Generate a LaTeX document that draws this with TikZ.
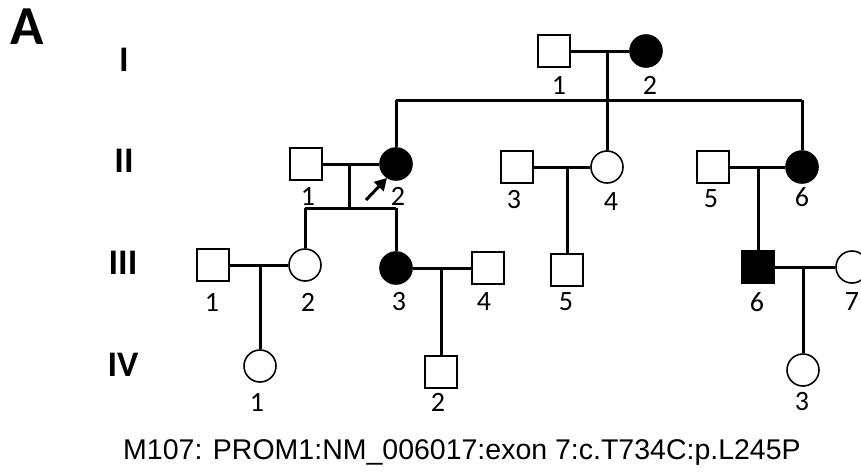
\documentclass[tikz,border=0pt]{standalone}
\usepackage{fontspec}
\setmainfont{Carlito}
\newfontfamily\capfont{Liberation Sans}
\usetikzlibrary{arrows.meta}
\tikzset{
  male/.style={draw=black, line width=1.6pt, minimum size=32pt, inner sep=0pt, fill=white},
  female/.style={circle, draw=black, line width=1.6pt, minimum size=32pt, inner sep=0pt, fill=white},
  aff/.style={fill=black},
  conn/.style={line width=3pt},
  num/.style={inner sep=0pt, font=\fontsize{28}{28}\selectfont},
  gen/.style={inner sep=0pt, font=\fontsize{36}{36}\selectfont\bfseries},
}
\begin{document}
\begin{tikzpicture}[x=1pt,y=-1pt]
\useasboundingbox (0,0) rectangle (861,471);
% generation labels
\node[inner sep=0pt, font=\fontsize{55}{55}\selectfont\bfseries] (lblA) at (27,27) {A};
\node[gen] (gI) at (124,60) {I};
\node[gen] (gII) at (124,161) {II};
\node[gen] (gIII) at (123,263) {III};
\node[gen] (gIV) at (123,365) {IV};
% ---------- junction points ----------
\coordinate (d1) at (607,51);
\coordinate (s1) at (607,100);
\coordinate (s1L) at (396,100);
\coordinate (s1R) at (802,100);
\coordinate (d2) at (349,164);
\coordinate (s2) at (349,208);
\coordinate (s2L) at (305,208);
\coordinate (s2R) at (396,208);
\coordinate (d3) at (567,167);
\coordinate (d4) at (758,167);
\coordinate (d5) at (260,265);
\coordinate (d6) at (441,268);
\coordinate (d7) at (803,267);
% individuals
\node[male] (I1) at (554,51) {};
\node[female, aff] (I2) at (646,51) {};
\node[male] (II1) at (306,164) {};
\node[female, aff] (II2) at (396,164) {};
\node[male] (II3) at (517,167) {};
\node[female] (II4) at (607,167) {};
\node[male] (II5) at (713,167) {};
\node[female, aff] (II6) at (802,167) {};
\node[male] (III1) at (213,265) {};
\node[female] (III2) at (305,265) {};
\node[female, aff] (III3) at (396,268) {};
\node[male] (III4) at (488,268) {};
\node[male] (III5) at (567,270) {};
\node[male, aff] (III6) at (758,267) {};
\node[female] (III7) at (852,267) {};
\node[female] (IV1) at (260,366) {};
\node[male] (IV2) at (441,372) {};
\node[female] (IV3) at (803,370) {};
% lines
\draw[conn] (I1) -- (I2);
\draw[conn] (d1) -- (s1);
\draw[conn] (s1L) -- (s1R);
\draw[conn] (s1L) -- (II2);
\draw[conn] (s1) -- (II4);
\draw[conn] (s1R) -- (II6);
\draw[conn] (II1) -- (II2);
\draw[conn] (d2) -- (s2);
\draw[conn] (s2L) -- (s2R);
\draw[conn] (s2L) -- (III2);
\draw[conn] (s2R) -- (III3);
\draw[conn] (II3) -- (II4);
\draw[conn] (d3) -- (III5);
\draw[conn] (II5) -- (II6);
\draw[conn] (d4) -- (III6);
\draw[conn] (III1) -- (III2);
\draw[conn] (d5) -- (IV1);
\draw[conn] (III3) -- (III4);
\draw[conn] (d6) -- (IV2);
\draw[conn] (III6) -- (III7);
\draw[conn] (d7) -- (IV3);
% proband arrow
\coordinate (arS) at (366,200);
\coordinate (arE) at (387,178);
\draw[line width=3pt, -{Triangle[length=12pt,width=13pt]}] (arS) -- (arE);
% numbers
\node[num] (nI1) at (559,85) {1};
\node[num] (nI2) at (650,85) {2};
\node[num] (nII1) at (308,196) {1};
\node[num] (nII2) at (398,196) {2};
\node[num] (nII3) at (514,200) {3};
\node[num] (nII4) at (611,202) {4};
\node[num] (nII5) at (711,199) {5};
\node[num] (nII6) at (802,197) {6};
\node[num] (nIII1) at (212,302) {1};
\node[num] (nIII2) at (308,302) {2};
\node[num] (nIII3) at (399,302) {3};
\node[num] (nIII4) at (484,302) {4};
\node[num] (nIII5) at (566,302) {5};
\node[num] (nIII6) at (757,302) {6};
\node[num] (nIII7) at (852,302) {7};
\node[num] (nIV1) at (257,402) {1};
\node[num] (nIV2) at (438,402) {2};
\node[num] (nIV3) at (802,402) {3};
% caption
\node[inner sep=0pt, font=\capfont\fontsize{28.5}{28.5}\selectfont] (cap) at (462,452) {M107: PROM1:NM\_006017:exon 7:c.T734C:p.L245P};
\end{tikzpicture}
\end{document}
